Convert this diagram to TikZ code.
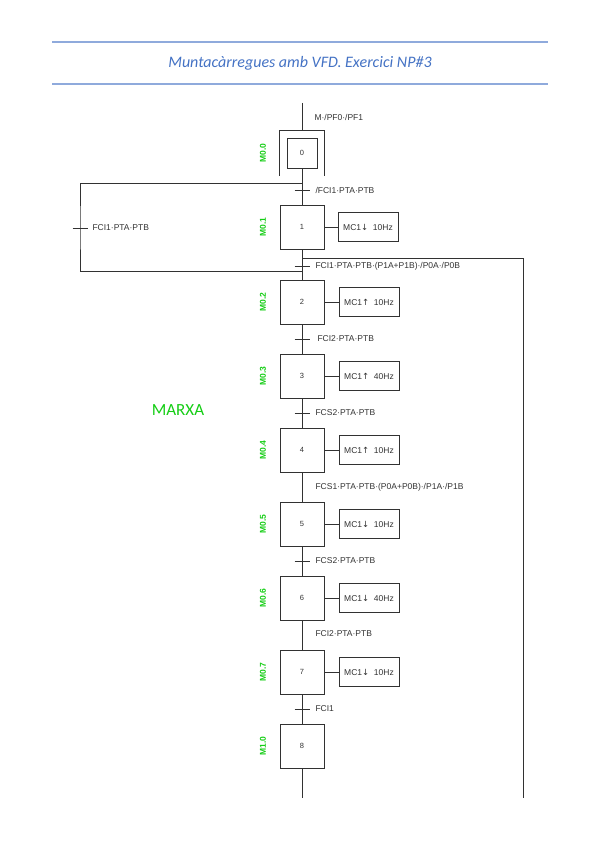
\documentclass[tikz,border=0pt]{standalone}
\usepackage{fontspec}
\setmainfont{Liberation Sans}
\newfontfamily\titlefont{Carlito}
\newfontfamily\fletxa{DejaVu Sans}
\definecolor{linia}{RGB}{50,50,50}
\definecolor{verd}{RGB}{20,205,20}
\definecolor{capcal}{RGB}{68,114,196}
\definecolor{regla}{RGB}{143,170,220}
\newcommand{\amunt}{{\fletxa ↑}}
\newcommand{\avall}{{\fletxa ↓}}

\begin{document}
\begin{tikzpicture}[x=1pt,y=-1pt,line width=1pt,
  etapa/.style={draw=linia,minimum size=44pt,inner sep=0pt,font=\fontsize{7.5}{8}\selectfont,text=linia},
  accio/.style={draw=linia,minimum width=60pt,minimum height=29pt,inner sep=0pt,font=\fontsize{8.5}{9}\selectfont,text=linia},
  marca/.style={rotate=90,text=verd,font=\fontsize{8.5}{9}\selectfont\bfseries},
  recep/.style={inner sep=0pt,minimum width=14pt,minimum height=0pt},
  cond/.style={anchor=west,inner sep=0pt,font=\fontsize{8.5}{9}\selectfont,text=linia}]
  \useasboundingbox (0,0) rectangle (599,848);
  \draw[regla,line width=1.2pt] (52,42) -- (548,42);
  \draw[regla,line width=1.2pt] (52,84) -- (548,84);
  \node[text=capcal,font=\titlefont\itshape\fontsize{16}{18}\selectfont] (titol) at (300,63) {Muntacàrregues amb VFD. Exercici NP\#3};
  \node[text=verd,font=\titlefont\fontsize{17}{20}\selectfont] (marxa) at (178,410) {MARXA};

  \coordinate (inici) at (302,103);
  \coordinate (final) at (302,798);
  \node[etapa,minimum size=30pt] (s0) at (302,153) {0};
  \node[minimum size=44pt,inner sep=0pt] (s0ext) at (302,153) {};
  \draw[linia] (s0ext.south west) -- (s0ext.north west) -- (s0ext.north east) -- (s0ext.south east);
  \node[etapa] (s1) at (302,227) {1};
  \node[etapa] (s2) at (302,302) {2};
  \node[etapa] (s3) at (302,376) {3};
  \node[etapa] (s4) at (302,450) {4};
  \node[etapa] (s5) at (302,524) {5};
  \node[etapa] (s6) at (302,598) {6};
  \node[etapa] (s7) at (302,672) {7};
  \node[etapa] (s8) at (302,746) {8};

  \node[marca] (m0) at (263,153) {M0.0};
  \node[marca] (m1) at (263,227) {M0.1};
  \node[marca] (m2) at (263,302) {M0.2};
  \node[marca] (m3) at (263,376) {M0.3};
  \node[marca] (m4) at (263,450) {M0.4};
  \node[marca] (m5) at (263,524) {M0.5};
  \node[marca] (m6) at (263,598) {M0.6};
  \node[marca] (m7) at (263,672) {M0.7};
  \node[marca] (m8) at (263,746) {M1.0};

  \node[accio] (a1) at (368,227) {MC1\avall\ \ 10Hz};
  \node[accio] (a2) at (369,302) {MC1\amunt\ \ 10Hz};
  \node[accio] (a3) at (369,376) {MC1\amunt\ \ 40Hz};
  \node[accio] (a4) at (369,450) {MC1\amunt\ \ 10Hz};
  \node[accio] (a5) at (369,524) {MC1\avall\ \ 10Hz};
  \node[accio] (a6) at (369,598) {MC1\avall\ \ 40Hz};
  \node[accio] (a7) at (369,672) {MC1\avall\ \ 10Hz};
  \foreach \i in {1,...,7}
    \draw[linia] (s\i.east) -- (a\i.west);

  \node[recep] (t1) at (302,190) {};
  \node[recep] (t2) at (302,266) {};
  \node[recep] (t3) at (302,339) {};
  \node[recep] (t4) at (302,413) {};
  \node[recep] (t5) at (302,487) {};
  \node[recep] (t6) at (302,561) {};
  \node[recep] (t7) at (302,634) {};
  \node[recep] (t8) at (302,709) {};
  \node[recep] (tb) at (80,228) {};
  \foreach \t in {t1,t2,t3,t4,t6,t8,tb}
    \draw[linia] (\t.west) -- (\t.east);

  \node[cond] (c0) at (314,117) {M·/PF0·/PF1};
  \node[cond] (c1) at (315,190) {/FCI1·PTA·PTB};
  \node[cond] (c2) at (315,266) {FCI1·PTA·PTB·(P1A+P1B)·/P0A·/P0B};
  \node[cond] (c3) at (317,339) {FCI2·PTA·PTB};
  \node[cond] (c4) at (315,413) {FCS2·PTA·PTB};
  \node[cond] (c5) at (315,487) {FCS1·PTA·PTB·(P0A+P0B)·/P1A·/P1B};
  \node[cond] (c6) at (315,561) {FCS2·PTA·PTB};
  \node[cond] (c7) at (315,634) {FCI2·PTA·PTB};
  \node[cond] (c8) at (315,709) {FCI1};
  \node[cond] (cb) at (92,228) {FCI1·PTA·PTB};

  \draw[linia] (inici) -- (s0ext.north);
  \draw[linia] (s0.south) -- (s1.north);
  \draw[linia] (s1.south) -- (s2.north);
  \draw[linia] (s2.south) -- (s3.north);
  \draw[linia] (s3.south) -- (s4.north);
  \draw[linia] (s4.south) -- (s5.north);
  \draw[linia] (s5.south) -- (s6.north);
  \draw[linia] (s6.south) -- (s7.north);
  \draw[linia] (s7.south) -- (s8.north);
  \draw[linia] (s8.south) -- (final);

  \coordinate (bucdalt) at (302,183);
  \coordinate (bucbaix) at (302,271);
  \draw[linia] (bucdalt) -| (tb.center) |- (bucbaix);
  \coordinate (dreta) at (302,258);
  \coordinate (dretafi) at (523,798);
  \draw[linia] (dreta) -| (dretafi);
\end{tikzpicture}
\end{document}
